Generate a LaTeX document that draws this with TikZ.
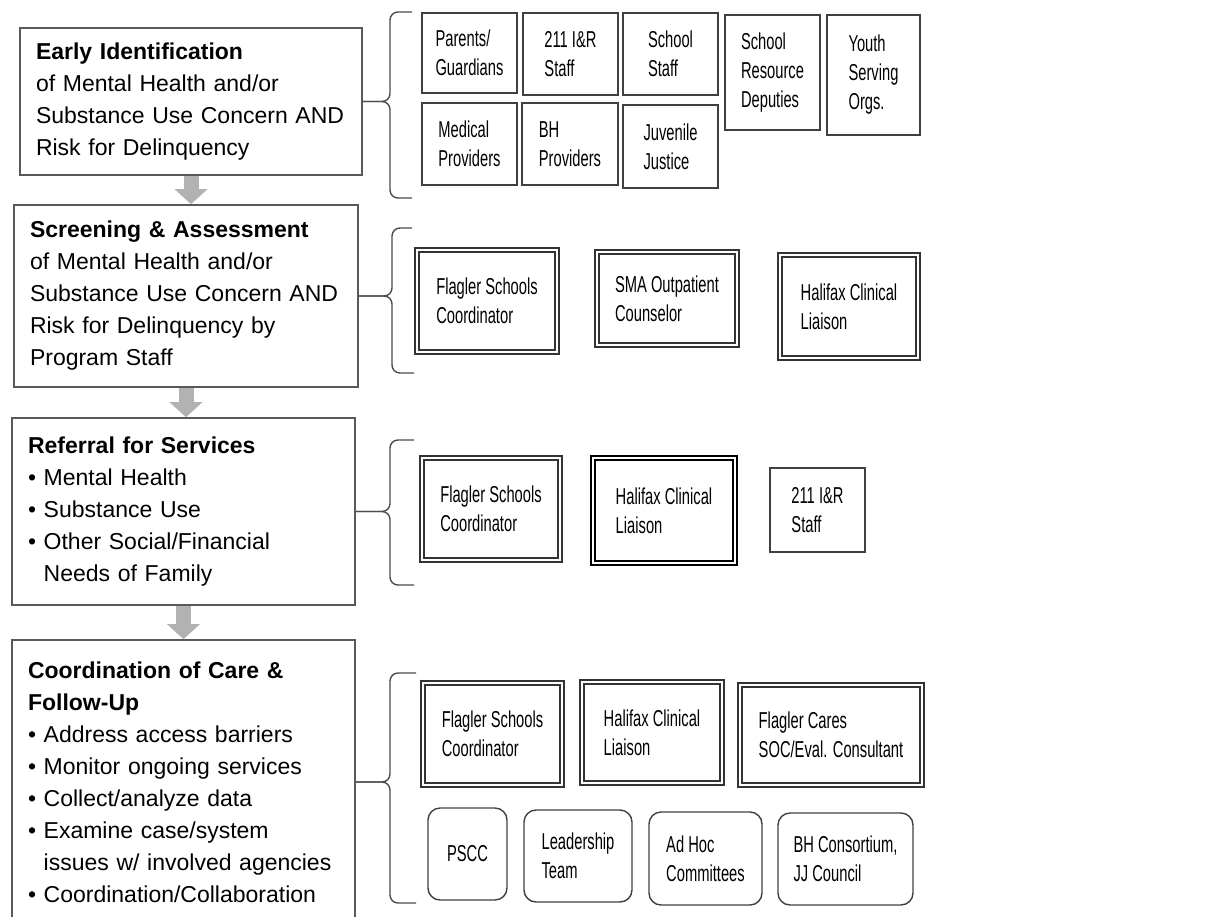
\documentclass[tikz,border=0pt]{standalone}
\usepackage{fontspec}
\setmainfont{Liberation Sans}
\newfontfamily\narrowsans[FakeStretch=0.64]{Liberation Sans}
\usetikzlibrary{arrows.meta}

\begin{document}
\begin{tikzpicture}[x=1pt, y=-1pt,
	stage/.style={draw=black!65, line width=1.6pt, align=left, inner xsep=16pt, inner ysep=0pt, font=\fontsize{23}{32}\selectfont},
	stagedims/.style 2 args={text width=#1pt, minimum height=#2pt},
	who/.style={draw=black!75, line width=1.4pt, align=left, inner sep=0pt, font=\narrowsans\fontsize{23}{29}\selectfont},
	dbl/.style={who, double, draw=black!80, line width=1.3pt, double distance=2.5pt},
	heavydbl/.style={who, double, draw=black, line width=2.2pt, double distance=2pt},
	round/.style={who, rounded corners=12pt},
	dims/.style 2 args={minimum width=#1pt, minimum height=#2pt},
	brace/.style={draw=black!70, line width=1.4pt, rounded corners=8pt},
	flow/.style={draw=black!30, line width=15pt, -{Triangle[length=15pt, width=32pt]}}]
	
	\useasboundingbox (0, 0) rectangle (1213, 916);
	\clip (0, 0) rectangle (1213, 916);
	
	\node[stage, stagedims={310}{147}] (early) at (191, 101.5) {\textbf{Early Identification}\\of Mental Health and/or\\Substance Use Concern AND\\Risk for Delinquency};
	\node[stage, stagedims={312}{182}] (screen) at (186, 296) {\textbf{Screening \& Assessment}\\of Mental Health and/or\\Substance Use Concern AND\\Risk for Delinquency by\\Program Staff};
	\node[stage, stagedims={311}{187}] (referral) at (183.5, 511.5) {\textbf{Referral for Services}\\\textbullet\ Mental Health\\\textbullet\ Substance Use\\\textbullet\ Other Social/Financial\\\phantom{\textbullet\ }Needs of Family};
	\node[stage, stagedims={311}{284}] (care) at (183.5, 782) {\textbf{Coordination of Care \&}\\\textbf{Follow-Up}\\\textbullet\ Address access barriers\\\textbullet\ Monitor ongoing services\\\textbullet\ Collect/analyze data\\\textbullet\ Examine case/system\\\phantom{\textbullet\ }issues w/ involved agencies\\\textbullet\ Coordination/Collaboration};
	
	\draw[flow] (early.south) -- (early.south |- screen.north);
	\draw[flow] (screen.south) -- (screen.south |- referral.north);
	\draw[flow] (referral.south) -- (referral.south |- care.north);
	
	\node[who, dims={95}{80}] (parents) at (469.5, 53) {Parents/\\Guardians};
	\node[who, dims={95}{82}] (irstaff) at (570.5, 54) {211 I\&R\\Staff};
	\node[who, dims={95}{82}] (schstaff) at (670.5, 54) {School\\Staff};
	\node[who, dims={95}{115}] (deputies) at (772.5, 72.5) {School\\Resource\\Deputies};
	\node[who, dims={93}{120}] (youth) at (873.5, 75) {Youth\\Serving\\Orgs.};
	\node[who, dims={95}{82}] (medical) at (469.5, 144) {Medical\\Providers};
	\node[who, dims={96}{82}] (bhprov) at (570, 144) {BH\\Providers};
	\node[who, dims={95}{83}] (juvenile) at (670.5, 146.5) {Juvenile\\Justice};
	
	\node[dbl, dims={140}{102}] (fscA) at (487, 301) {Flagler Schools\\Coordinator};
	\node[dbl, dims={140}{93}] (sma) at (667, 298.5) {SMA Outpatient\\Counselor};
	\node[dbl, dims={138}{103}] (halA) at (849, 306.5) {Halifax Clinical\\Liaison};
	
	\node[dbl, dims={138}{102}] (fscB) at (491, 509) {Flagler Schools\\Coordinator};
	\node[heavydbl, dims={142}{105}] (halB) at (664, 510.5) {Halifax Clinical\\Liaison};
	\node[who, dims={95}{84}] (irB) at (817.5, 510) {211 I\&R\\Staff};
	
	\node[dbl, dims={139}{102}] (fscC) at (492.5, 734) {Flagler Schools\\Coordinator};
	\node[dbl, dims={140}{101}] (halC) at (652, 732.5) {Halifax Clinical\\Liaison};
	\node[dbl, dims={182}{100}] (cares) at (831, 735) {Flagler Cares\\SOC/Eval. Consultant};
	\node[round, dims={79}{92}] (pscc) at (467.5, 854) {PSCC};
	\node[round, dims={108}{92}] (lead) at (578, 856) {Leadership\\Team};
	\node[round, dims={113}{93}] (adhoc) at (705.5, 858.5) {Ad Hoc\\Committees};
	\node[round, dims={135}{92}] (bhcons) at (845.5, 859) {BH Consortium,\\JJ Council};
	
	\draw[brace] (early.east) -| (390, 12) -- (412, 12);
	\draw[brace] (early.east) -| (390, 198) -- (412, 198);
	
	\draw[brace] (screen.east) -| (392, 228) -- (412, 228);
	\draw[brace] (screen.east) -| (392, 373) -- (414, 373);
	
	\draw[brace] (referral.east) -| (390, 440) -- (414, 440);
	\draw[brace] (referral.east) -| (390, 585) -- (414, 585);
	
	\draw[brace] (care.east) -| (390, 673) -- (416, 673);
	\draw[brace] (care.east) -| (390, 903) -- (416, 903);
	
\end{tikzpicture}
\end{document}
